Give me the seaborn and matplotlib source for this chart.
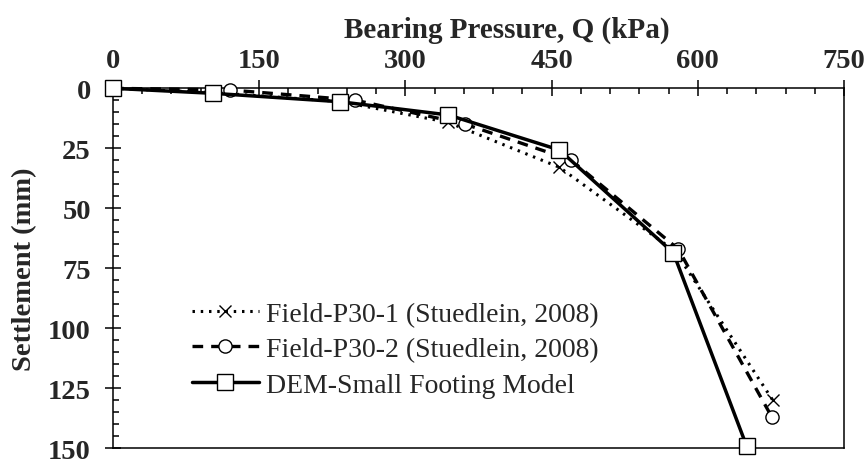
import matplotlib

matplotlib.use("Agg")
import matplotlib.pyplot as plt
import pandas as pd
import seaborn as sns
from matplotlib.ticker import MultipleLocator

# values
p30_1_pressure = [0, 103, 233, 344, 458, 577, 677]
p30_1_settlement = [0, 1.8, 5.5, 14.2, 32.9, 68.0, 130.0]

p30_2_pressure = [0, 120, 248, 361, 470, 580, 676]
p30_2_settlement = [0, 0.7, 4.9, 14.9, 29.9, 67.0, 137.0]

dem_pressure = [0, 103, 233, 344, 458, 575, 650]
dem_settlement = [0, 2.1, 5.6, 11.1, 25.7, 68.6, 149.0]

series_labels = [
    "Field-P30-1 (Stuedlein, 2008)",
    "Field-P30-2 (Stuedlein, 2008)",
    "DEM-Small Footing Model",
]

sns.set_theme(style="ticks")
plt.rcParams["font.family"] = ["Liberation Serif", "DejaVu Serif"]

fig = plt.figure(figsize=(8.68, 4.6), dpi=100)
ax = fig.add_axes([113 / 868, 10.7 / 460, (844 - 113) / 868, (449.3 - 89.3) / 460])

frames = [
    pd.DataFrame({"Q": p30_1_pressure, "S": p30_1_settlement}),
    pd.DataFrame({"Q": p30_2_pressure, "S": p30_2_settlement}),
    pd.DataFrame({"Q": dem_pressure, "S": dem_settlement}),
]
styles = [
    dict(linestyle=(0, (0.8, 1.9)), linewidth=2.2, marker="x", markersize=9,
         markeredgewidth=1.0),
    dict(linestyle=(0, (3.2, 2.4)), linewidth=2.4, marker="o", markersize=9.5,
         markeredgewidth=1.0, markerfacecolor="white"),
    dict(linestyle="-", linewidth=2.5, marker="s", markersize=11.5,
         markeredgewidth=1.0, markerfacecolor="white"),
]

for frame, label, style in zip(frames, series_labels, styles):
    sns.lineplot(data=frame, x="Q", y="S", sort=False, estimator=None, ax=ax,
                 color="black", markeredgecolor="black", label=label,
                 clip_on=False, zorder=3, **style)

ax.set_xlim(0, 750)
ax.set_ylim(150, 0)
ax.xaxis.set_major_locator(MultipleLocator(150))
ax.xaxis.set_minor_locator(MultipleLocator(30))
ax.yaxis.set_major_locator(MultipleLocator(25))
ax.yaxis.set_minor_locator(MultipleLocator(5))
ax.xaxis.tick_top()
ax.xaxis.set_label_position("top")

for spine in ["left", "top", "right", "bottom"]:
    ax.spines[spine].set_visible(True)
    ax.spines[spine].set_color("black")
    ax.spines[spine].set_linewidth(1.1)

ax.tick_params(which="major", direction="inout", length=12, width=1.1,
               color="black", labelsize=20.5)
ax.tick_params(which="minor", direction="in", length=4.5, width=1.1, color="black")
ax.tick_params(axis="x", which="both", top=True, bottom=False)
ax.tick_params(axis="x", which="major", pad=5)
ax.tick_params(axis="y", which="both", left=True, right=False)
ax.tick_params(axis="y", which="major", pad=10)
for tick_label in ax.get_xticklabels() + ax.get_yticklabels():
    tick_label.set_fontweight("bold")

ax.set_xlabel("Bearing Pressure, Q (kPa)", fontsize=21, fontweight="bold")
ax.xaxis.set_label_coords(0.539, 1.1425)
ax.set_ylabel("Settlement (mm)", fontsize=20.5, fontweight="bold", labelpad=8)

ax.legend(loc="lower left", bbox_to_anchor=(0.093, 0.11), frameon=False,
          fontsize=20, handlelength=2.4, handletextpad=0.25, labelspacing=0.36,
          borderaxespad=0, markerscale=1.0)

fig.savefig("out.png", dpi=100)
